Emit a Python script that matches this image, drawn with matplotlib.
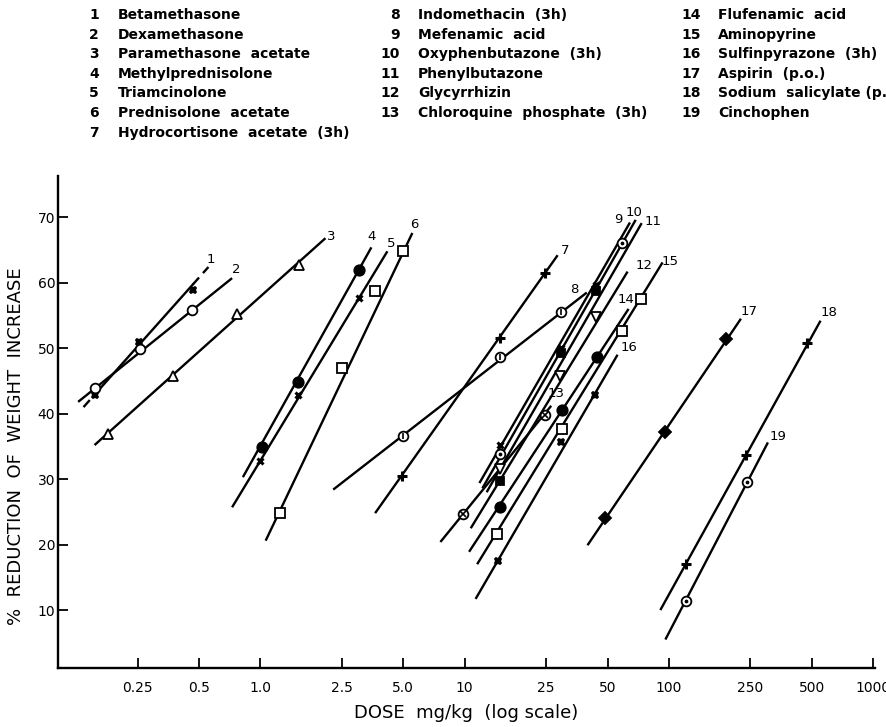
import numpy as np
import matplotlib
matplotlib.use("Agg")
import matplotlib.pyplot as plt

# drugs, numbered 1..19 as in the key
drug_names = [
    "Betamethasone", "Dexamethasone", "Paramethasone  acetate",
    "Methylprednisolone", "Triamcinolone", "Prednisolone  acetate",
    "Hydrocortisone  acetate  (3h)",
    "Indomethacin  (3h)", "Mefenamic  acid", "Oxyphenbutazone  (3h)",
    "Phenylbutazone", "Glycyrrhizin", "Chloroquine  phosphate  (3h)",
    "Flufenamic  acid", "Aminopyrine", "Sulfinpyrazone  (3h)",
    "Aspirin  (p.o.)", "Sodium  salicylate (p.o.)", "Cinchophen",
]

# measured points, dose in mg/kg
point_dose = [
    [0.155, 0.255, 0.466],
    [0.155, 0.258, 0.463],
    [0.18, 0.375, 0.769, 1.54],
    [1.02, 1.52, 3.03],
    [1.0, 1.52, 3.03],
    [1.25, 2.52, 3.64, 5.0],
    [4.95, 14.9, 24.7],
    [4.99, 14.9, 29.6],
    [14.9, 58.9],
    [14.9, 29.6, 43.9],
    [14.9, 29.6, 43.9],
    [14.9, 29.2, 43.9],
    [9.86, 24.7],
    [14.9, 29.8, 44.2],
    [14.4, 29.8, 58.9, 73.2],
    [14.5, 29.6, 43.4],
    [48.6, 95.9, 190],
    [121, 238, 474],
    [121, 240],
]
# % reduction of weight increase at those doses
point_resp = [
    [42.9, 51.0, 58.9],
    [43.9, 49.9, 55.8],
    [36.9, 45.8, 55.2, 62.7],
    [34.9, 44.8, 61.9],
    [32.8, 42.9, 57.7],
    [24.9, 46.9, 58.8, 64.8],
    [30.5, 51.6, 61.5],
    [36.6, 48.6, 55.6],
    [33.9, 66.1],
    [29.7, 49.2, 58.7],
    [35.2, 50.1, 59.6],
    [31.5, 45.8, 54.8],
    [24.7, 39.8],
    [25.8, 40.6, 48.7],
    [21.6, 37.7, 52.7, 57.5],
    [17.5, 35.6, 42.9],
    [24.0, 37.2, 51.4],
    [17.0, 33.7, 50.8],
    [11.4, 29.5],
]

# dose-response lines: (low, high) ends
line_dose = [
    [0.136, 0.556], [0.128, 0.726], [0.154, 2.08], [0.82, 3.49],
    [0.726, 4.18], [1.06, 5.54], [3.64, 28.5], [2.27, 39.6],
    [11.8, 64.4], [12.2, 68.7], [12.8, 73.5], [10.7, 62.7],
    [7.6, 26.5], [10.5, 63.4], [11.5, 93], [11.3, 56],
    [39.9, 225], [90.7, 552], [96, 305],
]
line_resp = [
    [41.0, 62.4], [41.8, 60.7], [35.2, 66.8], [30.3, 65.4],
    [25.7, 64.8], [20.6, 67.6], [24.8, 64.2], [28.4, 58.5],
    [29.4, 69.2], [28.6, 69.6], [28.0, 69.1], [22.5, 61.7],
    [20.4, 41.2], [18.9, 56.0], [17.0, 63.1], [11.7, 49.0],
    [19.9, 54.5], [10.0, 54.2], [5.5, 35.6],
]

x_ticks = [0.25, 0.5, 1.0, 2.5, 5.0, 10, 25, 50, 100, 250, 500, 1000]
x_tick_labels = ["0.25", "0.5", "1.0", "2.5", "5.0", "10", "25", "50",
                 "100", "250", "500", "1000"]
y_ticks = [10, 20, 30, 40, 50, 60, 70]

# marker look per drug (marker, size, filled) and an inner mark, if any
markers = [
    ("X", 5, True), ("o", 7, False), ("^", 6.5, False), ("o", 7.5, True),
    ("x", 5, True), ("s", 6.5, False), ("+", 6.5, True), ("o", 7, False),
    ("o", 7, False), ("s", 6, True), ("x", 5, True), ("v", 6.5, False),
    ("o", 7, False), ("o", 7.5, True), ("s", 6.5, False), ("X", 5, True),
    ("D", 6, True), ("+", 7.5, True), ("o", 7, False),
]
inner = {8: "|", 9: ".", 13: "x", 19: "."}
# where the number sits relative to the top end of its line (pixels)
label_offset = {
    1: (2, 8), 2: (4, 9), 3: (6, 2), 4: (0, 11), 5: (4, 8), 6: (2, 8),
    7: (7, 5), 8: (-13, 3), 9: (-12, 3), 10: (-2, 7), 11: (11, 2),
    12: (16, 6), 13: (5, 12), 14: (-3, 9), 15: (8, 1), 16: (11, 7),
    17: (8, 7), 18: (8, 8), 19: (10, 6),
}

W, H = 887, 727
fig = plt.figure(figsize=(W / 100, H / 100), dpi=100)
ax = fig.add_axes([58 / W, 1 - 668 / H, (875 - 58) / W, (668 - 176) / H])

for i in range(19):
    n = i + 1
    ld, lr = line_dose[i], line_resp[i]
    if n == 1:
        # extrapolated ends of line 1 are dashed
        lo, hi = point_dose[0][0], point_dose[0][-1]
        lx = np.log10(ld)
        r_lo = np.interp(np.log10(lo), lx, lr)
        r_hi = np.interp(np.log10(hi), lx, lr)
        ax.plot([lo, hi], [r_lo, r_hi], color="k", lw=1.7)
        ax.plot([ld[0], lo], [lr[0], r_lo], color="k", lw=1.7, ls=(0, (4, 2.5)))
        ax.plot([hi, ld[1]], [r_hi, lr[1]], color="k", lw=1.7, ls=(0, (4, 2.5)))
    else:
        ax.plot(ld, lr, color="k", lw=1.7, solid_capstyle="butt")

    m, ms, filled = markers[i]
    if m in ("x", "+"):
        ax.plot(point_dose[i], point_resp[i], ls="none", marker=m, ms=ms,
                mew=2.2, color="k", zorder=3)
    else:
        ax.plot(point_dose[i], point_resp[i], ls="none", marker=m, ms=ms,
                mfc="k" if filled else "white", mec="k", mew=1.3, zorder=3)
    if n in inner:
        ax.plot(point_dose[i], point_resp[i], ls="none", marker=inner[n],
                ms=4 if inner[n] != "." else 3, mew=1.2, color="k", zorder=4)

    dx, dy = label_offset[n]
    ax.annotate(str(n), xy=(ld[1], lr[1]), xytext=(dx * 0.72, dy * 0.72),
                textcoords="offset points", ha="center", va="center",
                fontsize=9.5)

ax.set_xscale("log")
ax.set_xlim(0.102, 1020)
ax.set_ylim(1.15, 76.3)
ax.set_xticks(x_ticks)
ax.set_xticklabels(x_tick_labels)
ax.xaxis.set_minor_locator(matplotlib.ticker.NullLocator())
ax.set_yticks(y_ticks)
ax.tick_params(axis="both", direction="in", length=7, width=1.3,
               labelsize=10)
ax.tick_params(axis="x", pad=9)
ax.tick_params(axis="y", pad=2)
for side in ("top", "right"):
    ax.spines[side].set_visible(False)
for side in ("left", "bottom"):
    ax.spines[side].set_linewidth(1.7)

ax.set_xlabel("DOSE  mg/kg  (log scale)", fontsize=13, labelpad=7)
ax.set_ylabel("%  REDUCTION  OF  WEIGHT  INCREASE", fontsize=13)
ax.yaxis.set_label_coords(-0.041, 0.45)

# the key above the plot, three columns
col_num_x = [99, 400, 701]
col_name_x = [118, 418, 718]
col_rows = [range(0, 7), range(7, 13), range(13, 19)]
for c in range(3):
    for r, i in enumerate(col_rows[c]):
        y = 1 - (15 + r * 19.6) / H
        fig.text(col_num_x[c] / W, y, str(i + 1), ha="right", va="center",
                 fontsize=10, fontweight="bold")
        fig.text(col_name_x[c] / W, y, drug_names[i], ha="left", va="center",
                 fontsize=10, fontweight="bold")

fig.savefig("out.png", dpi=100)
